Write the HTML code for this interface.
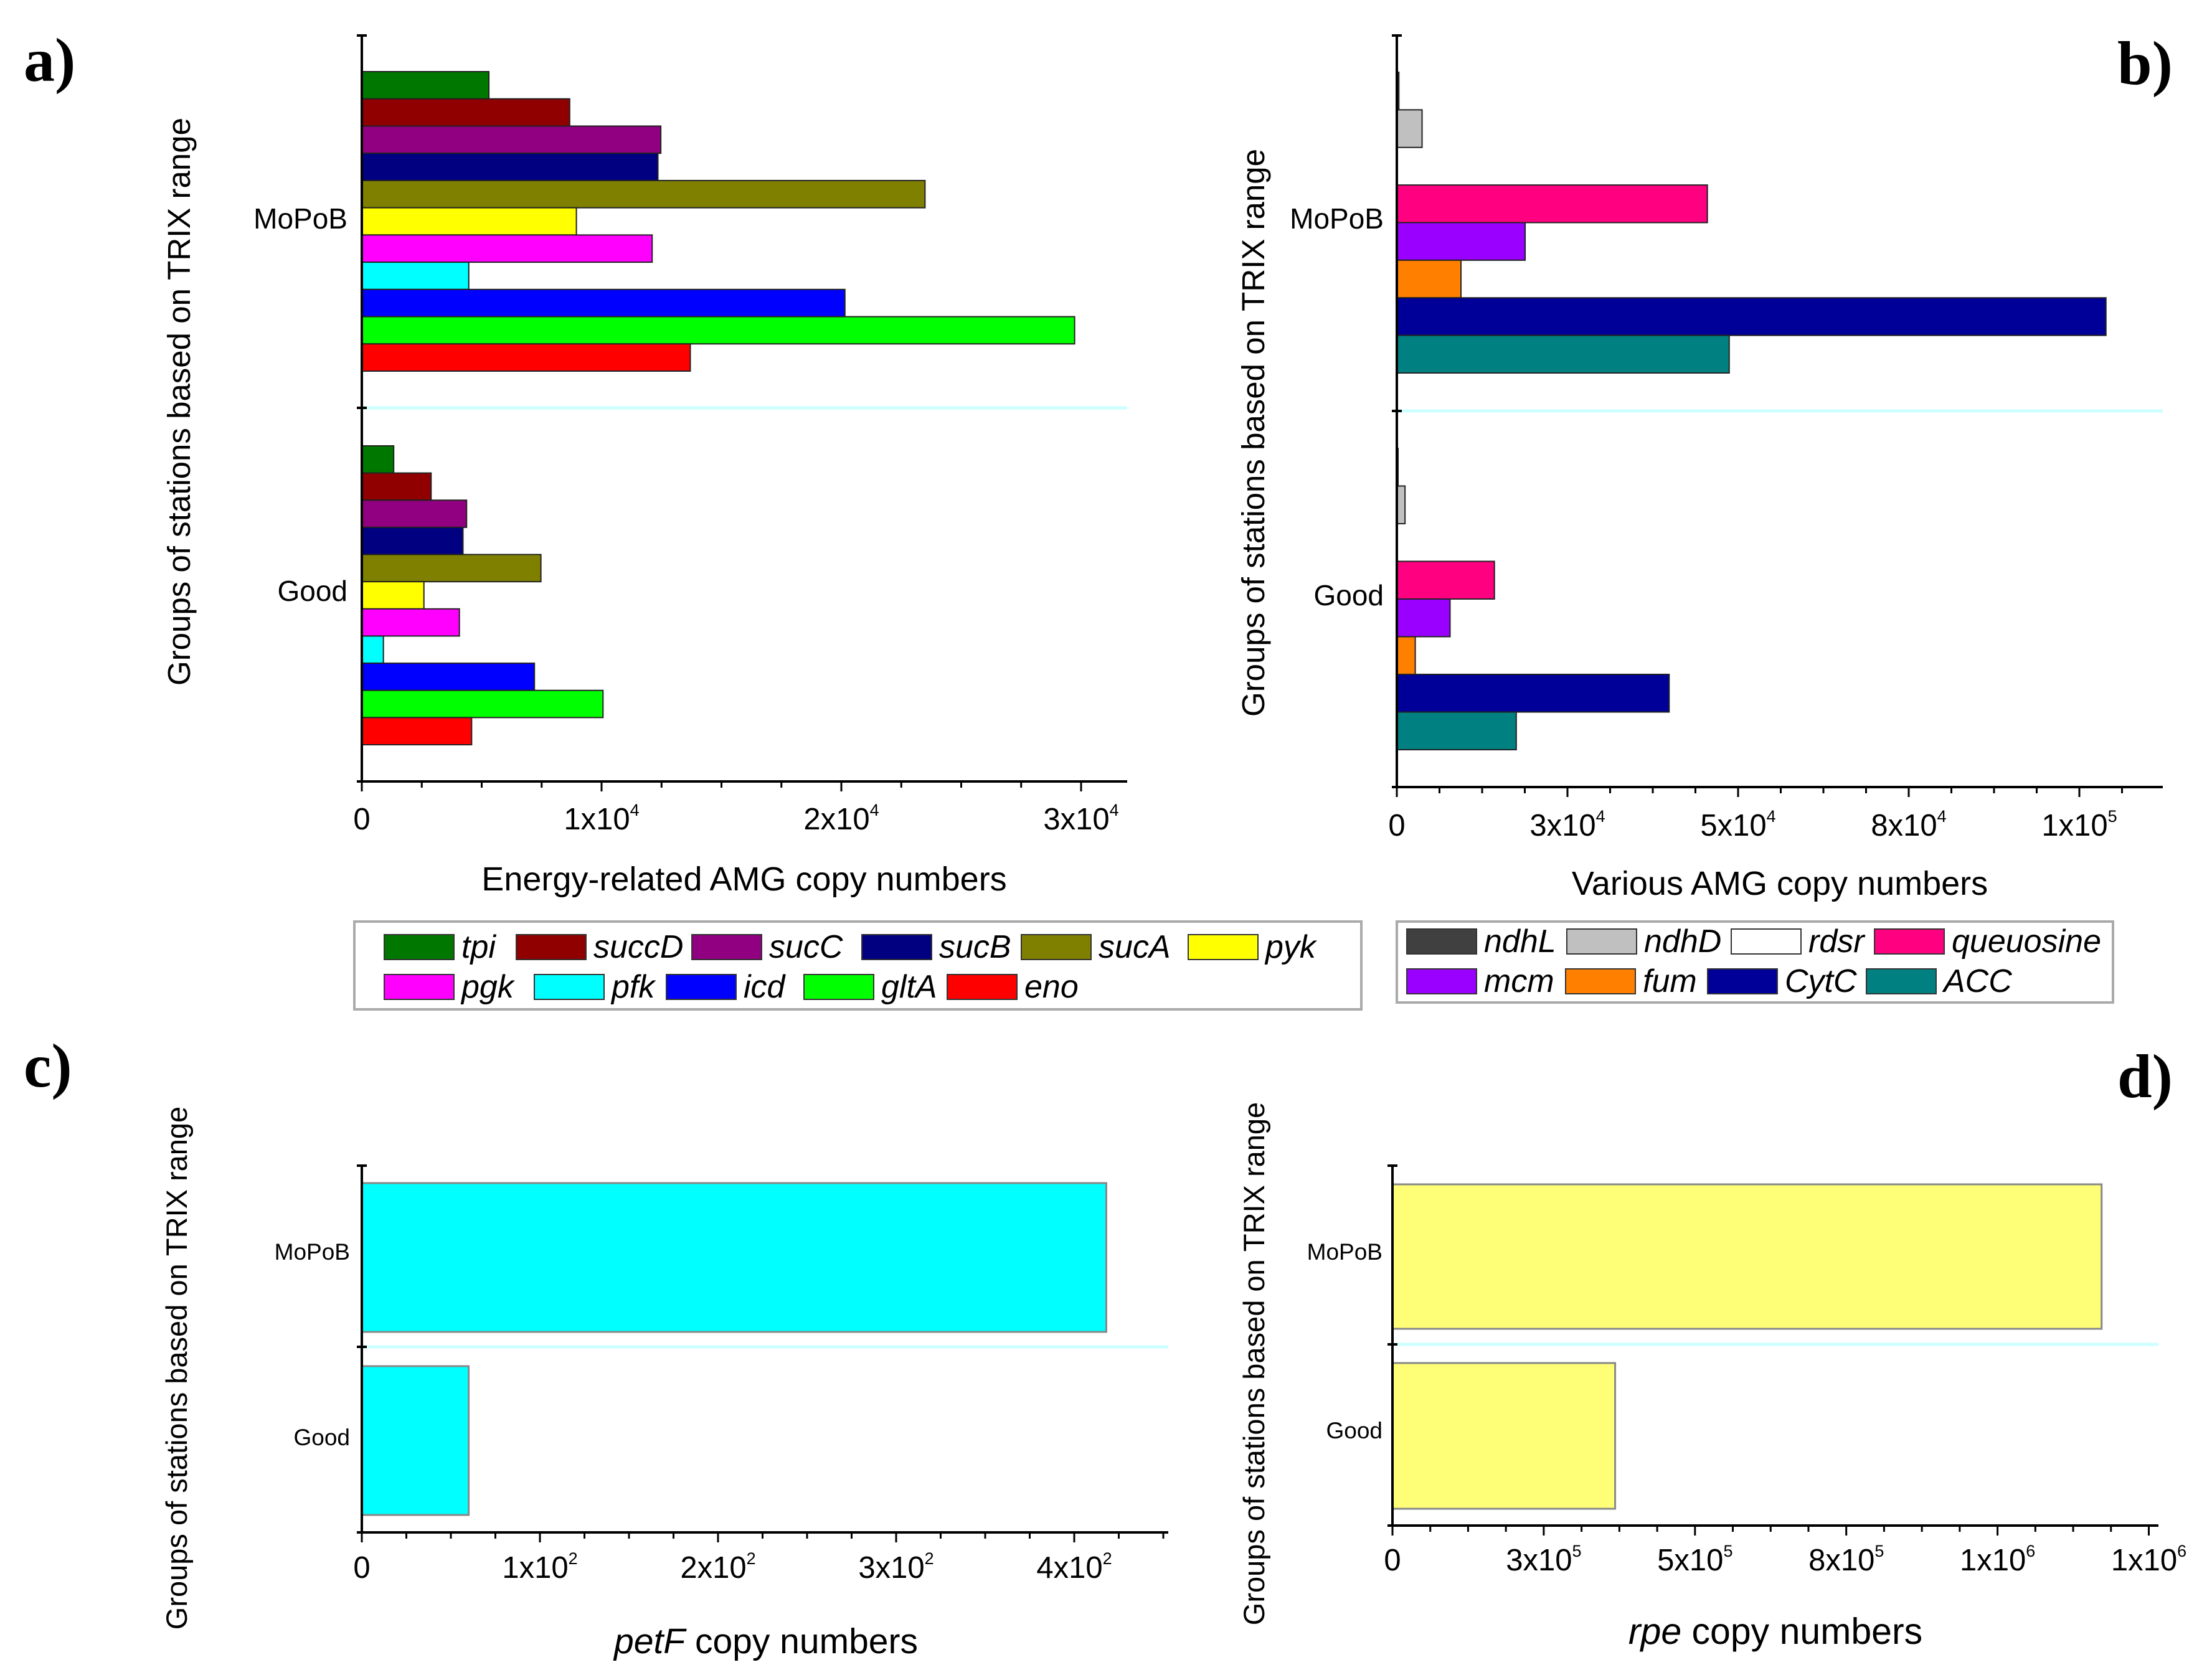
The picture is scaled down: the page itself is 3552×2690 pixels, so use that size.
<!DOCTYPE html>
<html><head><meta charset="utf-8">
<style>
html,body{margin:0;padding:0;background:#fff;}
svg{display:block;font-family:"Liberation Sans",sans-serif;}
.pl{font-family:"Liberation Serif",serif;font-weight:bold;font-size:100px;}
</style></head>
<body>
<svg id="fig" width="3552" height="2690" viewBox="0 0 3552 2690" xmlns="http://www.w3.org/2000/svg">
<text class="pl" x="38" y="130">a)</text>
<text class="pl" x="3400" y="135">b)</text>
<text class="pl" x="38" y="1745">c)</text>
<text class="pl" x="3400" y="1762">d)</text>
</svg>
<script>
const NS="http://www.w3.org/2000/svg";
const svg=document.getElementById('fig');

// Panel a data
const aGenes=["tpi","succD","sucC","sucB","sucA","pyk","pgk","pfk","icd","gltA","eno"];
const aColors=["#007800","#900000","#900080","#000080","#808000","#ffff00","#ff00ff","#00ffff","#0000ff","#00ff00","#ff0000"];
const aMoPoB=[5300,8670,12470,12350,23490,8950,12110,4460,20150,29730,13700];
const aGood=[1330,2890,4370,4220,7470,2590,4070,900,7200,10060,4580];
const aTicks=[0,10000,20000,30000];
const aTickLabels=[["0",""],["1x10","4"],["2x10","4"],["3x10","4"]];

// Panel b data
const bGenes=["ndhL","ndhD","rdsr","queuosine","mcm","fum","CytC","ACC"];
const bColors=["#404040","#c0c0c0","#ffffff","#ff0080","#9900ff","#ff8000","#000099","#008080"];
const bMoPoB=[300,3700,0,45500,18800,9400,103900,48700];
const bGood=[100,1200,0,14300,7800,2700,39900,17500];
const bTicks=[0,25000,50000,75000,100000];
const bTickLabels=[["0",""],["3x10","4"],["5x10","4"],["8x10","4"],["1x10","5"]];

// Panel c data
const cMoPoB=[418];
const cGood=[60];
const cTicks=[0,100,200,300,400];
const cTickLabels=[["0",""],["1x10","2"],["2x10","2"],["3x10","2"],["4x10","2"]];

// Panel d data
const dMoPoB=[1172000];
const dGood=[368000];
const dTicks=[0,250000,500000,750000,1000000,1250000];
const dTickLabels=[["0",""],["3x10","5"],["5x10","5"],["8x10","5"],["1x10","6"],["1x10","6"]];

function mk(tag,attrs,parent){const e=document.createElementNS(NS,tag);for(const k in attrs)e.setAttribute(k,attrs[k]);(parent||svg).appendChild(e);return e;}

function panel(p){
  const g=mk('g',{});
  
  
  const x=v=>p.x0+v*p.pxPer;
  const dv=mk('line',{x1:p.x0,x2:p.xEnd,y1:p.div,y2:p.div,stroke:'#ccffff','stroke-width':5},g);
  
  
  const groups=[{vals:p.mopob,y0:p.m0,y1:p.m1,n:'mopob'},{vals:p.good,y0:p.g0,y1:p.g1,n:'good'}];
  groups.forEach(gr=>{
    const h=(gr.y1-gr.y0)/gr.vals.length;
    gr.vals.forEach((v,i)=>{
      if(v<=0)return;
      const r=mk('rect',{x:p.x0,y:gr.y0+i*h,width:Math.max(x(v)-p.x0,2),height:h,fill:p.colors[i],stroke:p.stroke,'stroke-width':p.sw},g);
      
      
    });
  });
  const ya=mk('line',{x1:p.x0,x2:p.x0,y1:p.top,y2:p.bot,stroke:'#000','stroke-width':4},g);
  
  
  const xa=mk('line',{x1:p.x0,x2:p.xEnd,y1:p.bot,y2:p.bot,stroke:'#000','stroke-width':4},g);
  
  
  [p.top,p.div,p.bot].forEach(yy=>mk('line',{x1:p.x0-8,x2:p.x0+8,y1:yy,y2:yy,stroke:'#000','stroke-width':4},g));
  const step=(p.ticks[1]-p.ticks[0])/4;
  for(let v=0;x(v)<=p.xEnd+1;v+=step){
    const major=Math.abs(v/(step*4)-Math.round(v/(step*4)))<1e-6;
    mk('line',{x1:x(v),x2:x(v),y1:p.bot,y2:p.bot+(major?16:10),stroke:'#000','stroke-width':3},g);
  }
  p.ticks.forEach((v,i)=>{
    const t=mk('text',{x:x(v),y:p.tickY,'font-size':p.tfs,'text-anchor':'middle',fill:'#000'},g);
    
    
    t.appendChild(document.createTextNode(p.tickLabels[i][0]));
    if(p.tickLabels[i][1]){const s=mk('tspan',{dy:-p.tfs*0.45,'font-size':p.tfs*0.55},t);s.textContent=p.tickLabels[i][1];}
  });
  [[p.catM,'MoPoB','category-mopob'],[p.catG,'Good','category-good']].forEach(c=>{
    const t=mk('text',{x:p.catX,y:c[0],'font-size':p.cfs,'text-anchor':'end','dominant-baseline':'middle',fill:'#000'},g);
    t.textContent=c[1];
    
    
  });
  const yt=mk('text',{x:0,y:0,'font-size':p.yfs,'text-anchor':'middle',transform:`translate(${p.ytX},${p.ytY}) rotate(-90)`,fill:'#000'},g);
  yt.textContent='Groups of stations based on TRIX range';
  
  
  const xt=mk('text',{x:p.xtX,y:p.xtY,'font-size':p.xfs,'text-anchor':'middle',fill:'#000'},g);
  
  
  p.xTitle.forEach(part=>{const s=mk('tspan',part[1]?{'font-style':'italic'}:{},xt);s.textContent=part[0];});
}

panel({name:'panel-a',x0:581,xEnd:1810,pxPer:385/10000,top:57,bot:1255,div:655,m0:115,m1:596,g0:716,g1:1196,
 mopob:aMoPoB,good:aGood,colors:aColors,genes:aGenes,stroke:'#222',sw:2,ticks:aTicks,tickLabels:aTickLabels,
 tickY:1332,tfs:49,catX:558,catM:355,catG:953,cfs:46,ytX:305,ytY:645,yfs:51,xtX:1195,xtY:1430,xfs:54,
 xTitle:[['Energy-related AMG copy numbers',false]]});

panel({name:'panel-b',x0:2243,xEnd:3473,pxPer:274/25000,top:57,bot:1264,div:660,m0:116,m1:599,g0:720,g1:1204,
 mopob:bMoPoB,good:bGood,colors:bColors,genes:bGenes,stroke:'#222',sw:2,ticks:bTicks,tickLabels:bTickLabels,
 tickY:1342,tfs:49,catX:2222,catM:355,catG:960,cfs:46,ytX:2030,ytY:695,yfs:51,xtX:2858,xtY:1437,xfs:54,
 xTitle:[['Various AMG copy numbers',false]]});

panel({name:'panel-c',x0:581,xEnd:1876,pxPer:286/100,top:1872,bot:2461,div:2163,m0:1900,m1:2139,g0:2194,g1:2433,
 mopob:cMoPoB,good:cGood,colors:['#00ffff'],genes:['petF'],stroke:'#888',sw:3,ticks:cTicks,tickLabels:cTickLabels,
 tickY:2534,tfs:49,catX:562,catM:2013,catG:2311,cfs:37,ytX:300,ytY:2197,yfs:47,xtX:1230,xtY:2655,xfs:57,
 xTitle:[['petF',true],[' copy numbers',false]]});

panel({name:'panel-d',x0:2236,xEnd:3466,pxPer:242.9/250000,top:1872,bot:2450,div:2159,m0:1902,m1:2134,g0:2189,g1:2423,
 mopob:dMoPoB,good:dGood,colors:['#ffff77'],genes:['rpe'],stroke:'#888',sw:3,ticks:dTicks,tickLabels:dTickLabels,
 tickY:2522,tfs:49,catX:2220,catM:2013,catG:2300,cfs:37,ytX:2030,ytY:2190,yfs:47,xtX:2851,xtY:2640,xfs:59,
 xTitle:[['rpe',true],['  copy numbers',false]]});

function legend(name,box,items,rows){
  const g=mk('g',{});
  
  
  const b=mk('rect',{x:box[0],y:box[1],width:box[2],height:box[3],fill:'#fff',stroke:'#aaa','stroke-width':4},g);
  
  
  items.forEach(it=>{
    const y=rows[it[3]];
    const e=mk('g',{},g);
    
    
    mk('rect',{x:it[2],y:y-20,width:112,height:40,fill:it[1],stroke:'#333','stroke-width':2},e);
    const t=mk('text',{x:it[2]+124,y:y+17,'font-size':52,'font-style':'italic',fill:'#000'},e);
    t.textContent=it[0];
  });
}
legend('legend-energy',[569,1480,1617,141],[
 ['tpi',aColors[0],617,0],['succD',aColors[1],829,0],['sucC',aColors[2],1111,0],['sucB',aColors[3],1384,0],['sucA',aColors[4],1640,0],['pyk',aColors[5],1908,0],
 ['pgk',aColors[6],617,1],['pfk',aColors[7],858,1],['icd',aColors[8],1070,1],['gltA',aColors[9],1291,1],['eno',aColors[10],1521,1]],[1521,1585]);
legend('legend-various',[2243,1480,1150,130],[
 ['ndhL',bColors[0],2259,0],['ndhD',bColors[1],2516,0],['rdsr',bColors[2],2780,0],['queuosine',bColors[3],3010,0],
 ['mcm',bColors[4],2259,1],['fum',bColors[5],2514,1],['CytC',bColors[6],2742,1],['ACC',bColors[7],2997,1]],[1512,1576]);
</script>
</body></html>
